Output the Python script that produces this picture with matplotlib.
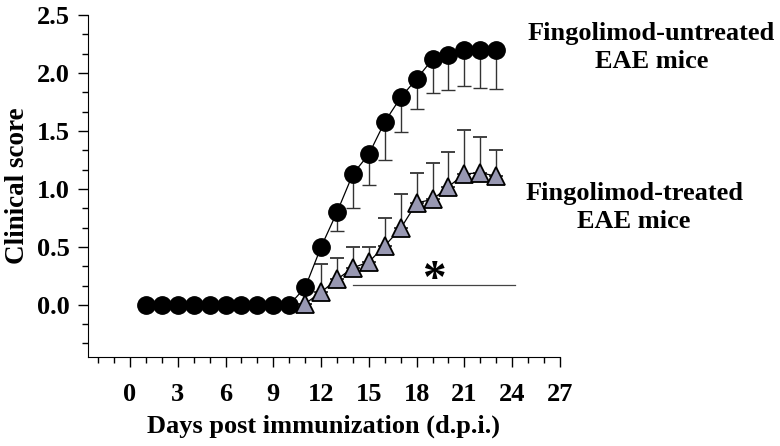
import matplotlib.pyplot as plt
from matplotlib.ticker import MultipleLocator

plt.rcParams['font.family'] = ['Liberation Serif', 'DejaVu Serif']
plt.rcParams['font.weight'] = 'bold'

days = list(range(1, 24))

untreated = [0, 0, 0, 0, 0, 0, 0, 0, 0, 0,
             0.15, 0.50, 0.80, 1.13, 1.30, 1.58, 1.79, 1.95, 2.12, 2.16, 2.20, 2.20, 2.20]
untreated_err = [0, 0, 0, 0, 0, 0, 0, 0, 0, 0,
                 0, 0, 0.16, 0.29, 0.27, 0.33, 0.30, 0.26, 0.29, 0.31, 0.31, 0.33, 0.34]

treated = [0, 0, 0, 0, 0, 0, 0, 0, 0, 0,
           0.01, 0.11, 0.22, 0.32, 0.37, 0.51, 0.66, 0.88, 0.91, 1.02, 1.13, 1.14, 1.11]
treated_err = [0, 0, 0, 0, 0, 0, 0, 0, 0, 0,
               0, 0.24, 0.18, 0.18, 0.13, 0.24, 0.30, 0.26, 0.31, 0.30, 0.38, 0.31, 0.23]

# treated curve only drawn from day 11 on (untreated markers cover days 1-10)
t_start = 10

sig_span = (14, 24.2)
sig_y = 0.17

fig = plt.figure(figsize=(7.8, 4.46), dpi=100)
ax = fig.add_axes([0.1128, 0.1996, 0.6051, 0.7664])

zeros = [0] * len(days)

ax.errorbar(days[t_start:], treated[t_start:],
            yerr=[zeros[t_start:], treated_err[t_start:]],
            fmt='^-', color='black', lw=0.9, ms=13, mfc='#9898b2', mec='black', mew=1.3,
            ecolor='#333333', elinewidth=1.0, capsize=5, capthick=1.0, zorder=2)
ax.errorbar(days, untreated, yerr=[untreated_err, zeros],
            fmt='o-', color='black', lw=0.9, ms=12.5, mfc='black', mec='black',
            ecolor='#333333', elinewidth=1.0, capsize=5, capthick=1.0, zorder=3)

ax.plot(sig_span, [sig_y, sig_y], color='#444444', lw=0.9)
ax.text(19.1, 0.21, '*', fontsize=34, ha='center', va='center')

ax.set_xlim(-2.64, 27)
ax.set_ylim(-0.45, 2.5)
ax.xaxis.set_minor_locator(MultipleLocator(1))
ax.yaxis.set_minor_locator(MultipleLocator(0.5 / 3))
ax.set_yticks([0, 0.5, 1.0, 1.5, 2.0, 2.5])
ax.set_yticklabels(['0.0', '0.5', '1.0', '1.5', '2.0', '2.5'])
ax.set_xticks(range(0, 28, 3))

ax.spines['top'].set_visible(False)
ax.spines['right'].set_visible(False)

ax.tick_params(which='major', direction='out', length=7, width=1, labelsize=19, pad=12)
ax.tick_params(axis='y', which='major', pad=6)
ax.tick_params(which='minor', direction='out', length=4, width=1)

ax.set_xlabel('Days post immunization (d.p.i.)', fontsize=19, fontweight='bold', labelpad=6)
ax.set_ylabel('Clinical score', fontsize=19.5, fontweight='bold', labelpad=5)

fig.text(0.835, 0.893, 'Fingolimod-untreated\nEAE mice', ha='center', va='center',
         fontsize=19, fontweight='bold', linespacing=1.3)
fig.text(0.813, 0.535, 'Fingolimod-treated\nEAE mice', ha='center', va='center',
         fontsize=19, fontweight='bold', linespacing=1.3)

fig.savefig('out.png', dpi=100)
